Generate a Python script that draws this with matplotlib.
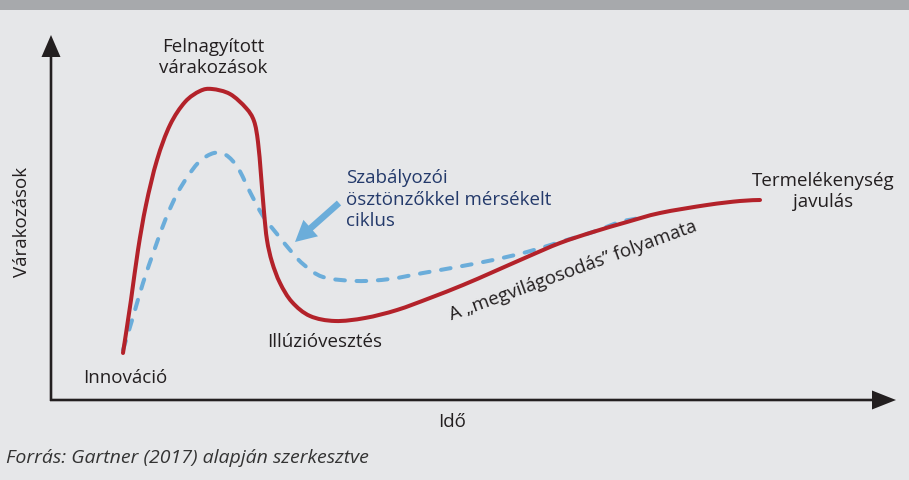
import matplotlib.pyplot as plt
import numpy as np
from matplotlib.patches import FancyArrow, Rectangle, PathPatch
from matplotlib.path import Path

# hype cycle curves, key points (pixel coords, y grows downwards)
red_x = [123, 131, 138, 146, 157, 170, 185, 200, 212, 230, 246, 254, 258, 261, 264, 267,
         272, 280, 292, 310, 335, 365, 397, 430, 463, 493, 527, 560, 593, 627, 660, 707, 740, 760]
red_y = [353, 300, 250, 205, 160, 125, 102, 91, 89, 94, 108, 121, 142, 175, 212, 240,
         262, 283, 302, 316, 321, 318, 310, 298, 285, 272, 257, 243, 232, 222, 213, 205, 201, 200]

blue_x = [123, 133, 143, 155, 166, 177, 188, 200, 214, 226, 238, 250, 263, 277, 290, 303,
          323, 357, 390, 423, 457, 493, 527, 560, 593, 620, 640]
blue_y = [350, 317, 283, 248, 218, 194, 176, 161, 153, 155, 168, 192, 216, 234, 250, 264,
          277, 281, 279, 273, 267, 260, 252, 242, 232, 222, 218]

text_col = "#231f20"
blue_col = "#6badda"
red_col = "#b3222a"


def smooth_path(xs, ys):
    # Catmull-Rom through the points, drawn as cubic Bezier segments
    p = np.column_stack([xs, ys]).astype(float)
    p = np.vstack([p[0], p, p[-1]])
    verts = [p[1]]
    codes = [Path.MOVETO]
    for i in range(1, len(p) - 2):
        c1 = p[i] + (p[i + 1] - p[i - 1]) / 6
        c2 = p[i + 1] - (p[i + 2] - p[i]) / 6
        verts += [c1, c2, p[i + 1]]
        codes += [Path.CURVE4] * 3
    return Path(verts, codes)


plt.rcParams['font.family'] = ['Open Sans', 'DejaVu Sans']

fig = plt.figure(figsize=(9.09, 4.8), dpi=100, facecolor="#e6e7e9")
ax = fig.add_axes([0, 0, 1, 1])
ax.set_xlim(0, 909)
ax.set_ylim(480, 0)
ax.axis("off")

# gray band on top
ax.add_patch(Rectangle((0, 0), 909, 10, color="#a7a9ac", lw=0))

# axes with arrows
ax.add_patch(FancyArrow(51, 401, 0, -366, width=2.6, head_width=19, head_length=22,
                        length_includes_head=True, color=text_col, lw=0))
ax.add_patch(FancyArrow(50, 400, 846, 0, width=2.6, head_width=19, head_length=24,
                        length_includes_head=True, color=text_col, lw=0))

ax.add_patch(PathPatch(smooth_path(blue_x, blue_y), fill=False, edgecolor=blue_col, lw=2.9,
                       linestyle=(0, (2.4, 2.9)), capstyle="round", zorder=3))
ax.add_patch(PathPatch(smooth_path(red_x, red_y), fill=False, edgecolor=red_col, lw=2.9,
                       capstyle="round", joinstyle="round", zorder=4))

# arrow pointing to the dashed curve
ax.add_patch(FancyArrow(339, 203, -44, 39, width=6.5, head_width=22, head_length=21,
                        length_includes_head=True, color=blue_col, lw=0, zorder=5))

fs = 13.5
ax.text(213, 47, "Felnagyított", fontsize=fs, color=text_col, ha="center", va="center")
ax.text(213, 68, "várakozások", fontsize=fs, color=text_col, ha="center", va="center")
ax.text(346, 178, "Szabályozói", fontsize=fs, color="#243a6b", ha="left", va="center")
ax.text(346, 200, "ösztönzőkkel mérsékelt", fontsize=fs, color="#243a6b", ha="left", va="center")
ax.text(346, 221, "ciklus", fontsize=fs, color="#243a6b", ha="left", va="center")
ax.text(823, 181, "Termelékenység", fontsize=fs, color=text_col, ha="center", va="center")
ax.text(823, 202, "javulás", fontsize=fs, color=text_col, ha="center", va="center")
ax.text(325, 342, "Illúzióvesztés", fontsize=fs, color=text_col, ha="center", va="center")
ax.text(125, 378, "Innováció", fontsize=fs, color=text_col, ha="center", va="center")
ax.text(573, 271, "A \u201emegvilágosodás\u201d folyamata", fontsize=fs, color=text_col,
        ha="center", va="center", rotation=20, rotation_mode="anchor")
ax.text(22, 222, "Várakozások", fontsize=fs, color=text_col, ha="center", va="center",
        rotation=90)
ax.text(452, 422, "Idő", fontsize=fs, color=text_col, ha="center", va="center")
ax.text(6, 458, "Forrás: Gartner (2017) alapján szerkesztve", fontsize=14, color="#333333",
        ha="left", va="center", style="italic")

fig.savefig("out.png", dpi=100, facecolor=fig.get_facecolor())
